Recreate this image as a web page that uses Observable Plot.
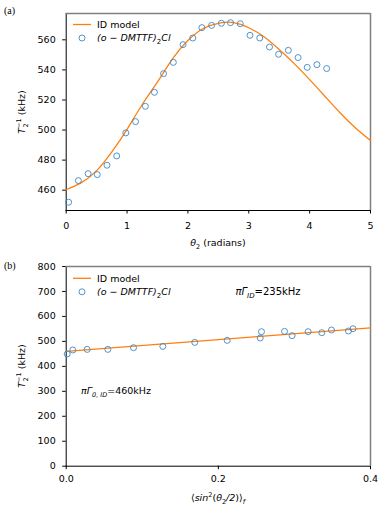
<!DOCTYPE html>
<html>
<head>
<meta charset="utf-8">
<script src="https://cdn.jsdelivr.net/npm/d3@7"></script>
<script src="https://cdn.jsdelivr.net/npm/@observablehq/plot@0.6"></script>
<style>
  html, body { margin: 0; padding: 0; background: white; }
  #chart { width: 383px; }
  svg { display: block; }
</style>
</head>
<body>
<div id="chart"></div>
<script>
// ---- Panel (a): T2^-1 vs theta2 ----
const thetaObs = [0.04, 0.20, 0.36, 0.51, 0.67, 0.83, 0.98, 1.14, 1.30, 1.45, 1.60, 1.76, 1.92, 2.08, 2.23, 2.39, 2.55, 2.70, 2.86, 3.02, 3.18, 3.34, 3.49, 3.65, 3.81, 3.96, 4.12, 4.28];
const rateObsA = [452.0, 466.4, 471.0, 470.4, 476.6, 482.8, 498.1, 505.6, 515.8, 525.1, 537.5, 545.0, 556.8, 561.2, 568.1, 569.6, 571.0, 571.4, 570.7, 563.0, 561.2, 555.2, 550.4, 553.0, 548.2, 541.7, 543.5, 540.9];
const thetaModel = [0, 0.25, 0.5, 0.75, 1.0, 1.25, 1.5, 1.75, 2.0, 2.25, 2.5, 2.75, 3.0, 3.25, 3.5, 3.75, 4.0, 4.25, 4.5, 4.75, 5.0];
const rateModelA = [460.3, 465.0, 473.0, 485.5, 500.5, 517.0, 532.0, 547.5, 559.5, 567.5, 571.0, 571.5, 568.0, 562.0, 553.5, 544.0, 533.5, 522.5, 511.5, 501.5, 493.0];
const xTicksA = [0, 1, 2, 3, 4, 5];
const yTicksA = [460, 480, 500, 520, 540, 560];
const xDomainA = [0, 5];
const yDomainA = [446.5, 577.5];

// ---- Panel (b): T2^-1 vs <sin^2(theta2/2)>_f ----
const sinObs = [0.0013, 0.0087, 0.0276, 0.0547, 0.0885, 0.127, 0.169, 0.2116, 0.255, 0.2567, 0.287, 0.297, 0.318, 0.336, 0.3487, 0.371, 0.377];
const rateObsB = [449.6, 465.6, 468.0, 468.0, 474.8, 480.0, 496.0, 504.0, 513.6, 538.8, 540.0, 522.8, 538.8, 534.8, 545.6, 541.6, 550.8];
const sinModel = [0, 0.4];
const rateModelB = [460, 554];
const xTicksB = [0, 0.2, 0.4];
const yTicksB = [0, 100, 200, 300, 400, 500, 600, 700, 800];
const xDomainB = [0, 0.4];
const yDomainB = [0, 800];

const legendLabels = ["ID model", "(o \u2212 DMTTF)"];
const annotB = ["235kHz", "460kHz"];

const orange = "#ff7f0e";
const blue = "#3d88c8";
const grayFrame = "#808080";
const font = "DejaVu Sans, sans-serif";

const dataA = thetaObs.map((t, i) => ({x: t, y: rateObsA[i]}));
const modelA = thetaModel.map((t, i) => ({x: t, y: rateModelA[i]}));
const dataB = sinObs.map((s, i) => ({x: s, y: rateObsB[i]}));
const modelB = sinModel.map((s, i) => ({x: s, y: rateModelB[i]}));

function panel({height, marginTop, marginBottom, xDomain, yDomain, xTicks, yTicks, xFmt, data, model, curve, xPad}) {
  return Plot.plot({
    width: 383,
    height,
    marginTop,
    marginBottom,
    marginLeft: 65.7,
    marginRight: 13,
    style: {fontFamily: font, fontSize: "9.5px", color: "black", background: "white", overflow: "visible"},
    x: {domain: xDomain, ticks: xTicks, tickFormat: xFmt, label: null, tickSize: 3.5, tickPadding: xPad, line: true},
    y: {domain: yDomain, ticks: yTicks, label: null, tickSize: 3.5, tickPadding: 7, line: true},
    marks: [
      Plot.ruleY([yDomain[1]], {stroke: grayFrame, strokeWidth: 1.5}),
      Plot.ruleX([xDomain[1]], {stroke: grayFrame, strokeWidth: 1.5}),
      Plot.line(model, {x: "x", y: "y", stroke: orange, strokeWidth: 1.3, curve}),
      Plot.dot(data, {x: "x", y: "y", r: 3, stroke: blue, fill: "none", strokeWidth: 0.9})
    ]
  });
}

const svgA = panel({height: 250, marginTop: 13, marginBottom: 40, xDomain: xDomainA, yDomain: yDomainA, xTicks: xTicksA, yTicks: yTicksA, xFmt: d3.format("d"), data: dataA, model: modelA, curve: "natural", xPad: 8});
const svgB = panel({height: 260, marginTop: 16, marginBottom: 44.3, xDomain: xDomainB, yDomain: yDomainB, xTicks: xTicksB, yTicks: yTicksB, xFmt: d3.format(".1f"), data: dataB, model: modelB, curve: "linear", xPad: 6});

document.getElementById("chart").append(svgA, svgB);

function addLegend(svg, y0) {
  const s = d3.select(svg);
  const g = s.append("g").attr("font-family", font).attr("font-size", 9.5).attr("text-anchor", "start");
  g.append("line").attr("x1", 73).attr("x2", 91).attr("y1", y0).attr("y2", y0).attr("stroke", orange).attr("stroke-width", 1.3);
  g.append("text").attr("x", 97).attr("y", y0).attr("dy", "0.35em").text(legendLabels[0]);
  g.append("circle").attr("cx", 82).attr("cy", y0 + 13.5).attr("r", 3).attr("fill", "none").attr("stroke", blue).attr("stroke-width", 0.9);
  const t = g.append("text").attr("x", 97).attr("y", y0 + 13.5).attr("dy", "0.35em").attr("font-style", "italic");
  t.append("tspan").text(legendLabels[1]);
  t.append("tspan").attr("dy", 2.5).attr("font-size", 7).attr("font-style", "normal").text("2");
  t.append("tspan").attr("dy", -2.5).text("Cl");
}

function addYLabel(svg, cy) {
  const s = d3.select(svg);
  const t = s.append("text").attr("font-family", font).attr("font-size", 9.5)
    .attr("transform", `translate(25,${cy}) rotate(-90)`).attr("text-anchor", "middle");
  t.append("tspan").attr("font-style", "italic").text("T");
  t.append("tspan").attr("font-size", 6.5).attr("dy", -4).text("\u22121");
  t.append("tspan").attr("font-size", 6.5).attr("dx", -9).attr("dy", 7).text("2");
  t.append("tspan").attr("dx", 5).attr("dy", -3).text(" (kHz)");
}

function addPanelLabel(svg, y, txt) {
  d3.select(svg).append("text").attr("x", 4).attr("y", y).attr("dy", "0.35em").attr("text-anchor", "start")
    .attr("font-family", "Liberation Serif, serif").attr("font-size", 10).text(txt);
}

// Panel (a) extras
addLegend(svgA, 24.5);
addYLabel(svgA, 112);
addPanelLabel(svgA, 10, "(a)");
{
  const t = d3.select(svgA).append("text").attr("font-family", font).attr("font-size", 9.5)
    .attr("x", 218).attr("y", 243).attr("dy", "0.35em").attr("text-anchor", "middle");
  t.append("tspan").attr("font-style", "italic").text("\u03B8");
  t.append("tspan").attr("font-size", 6.5).attr("dy", 2.5).text("2");
  t.append("tspan").attr("dy", -2.5).text(" (radians)");
}

// Panel (b) extras
addLegend(svgB, 28.3);
addYLabel(svgB, 116);
addPanelLabel(svgB, 15, "(b)");
{
  const g = d3.select(svgB).append("g").attr("font-family", font).attr("font-size", 10).attr("text-anchor", "start");
  const t1 = g.append("text").attr("x", 235.5).attr("y", 41.7).attr("dy", "0.35em");
  t1.append("tspan").attr("font-style", "italic").text("\u03C0\u0393");
  t1.append("tspan").attr("font-size", 7).attr("font-style", "italic").attr("dy", 2.5).text("ID");
  t1.append("tspan").attr("dy", -2.5).text("=" + annotB[0]);
  const t2 = g.append("text").attr("x", 81).attr("y", 140.7).attr("dy", "0.35em").attr("font-size", 9.5);
  t2.append("tspan").attr("font-style", "italic").text("\u03C0\u0393");
  t2.append("tspan").attr("font-size", 6.5).attr("font-style", "italic").attr("dy", 2.5).text("0, ID");
  t2.append("tspan").attr("dy", -2.5).text("=" + annotB[1]);
  const t3 = g.append("text").attr("x", 218).attr("y", 248).attr("dy", "0.35em").attr("text-anchor", "middle").attr("font-size", 9.5);
  t3.append("tspan").text("\u27E8");
  t3.append("tspan").attr("font-style", "italic").text("sin");
  t3.append("tspan").attr("font-size", 6.5).attr("dy", -4).text("2");
  t3.append("tspan").attr("dy", 4).text("(");
  t3.append("tspan").attr("font-style", "italic").text("\u03B8");
  t3.append("tspan").attr("font-size", 6.5).attr("dy", 2.5).text("2");
  t3.append("tspan").attr("dy", -2.5).attr("font-style", "italic").text("/2");
  t3.append("tspan").text(")\u27E9");
  t3.append("tspan").attr("font-size", 6.5).attr("font-style", "italic").attr("dy", 2.5).text("f");
}
</script>
</body>
</html>
